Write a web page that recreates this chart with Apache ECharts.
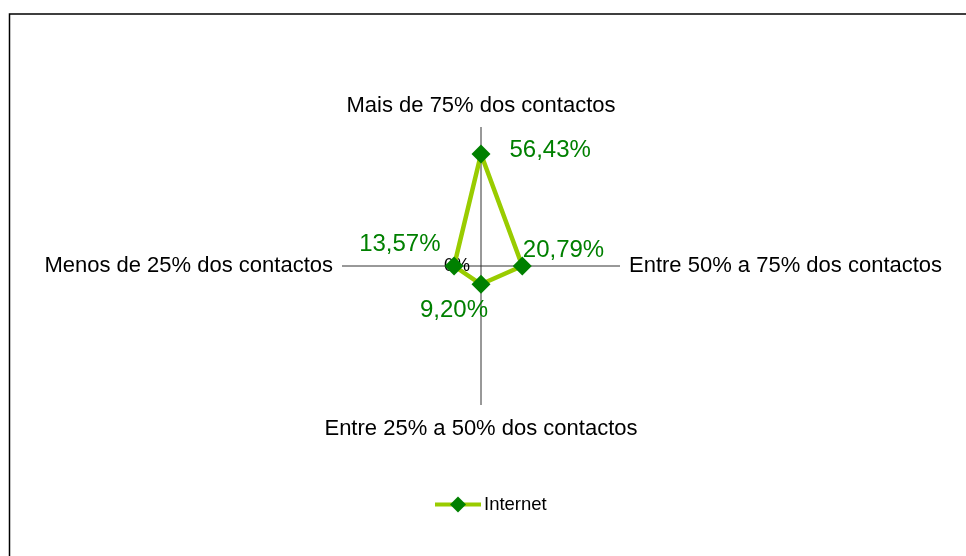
<!DOCTYPE html>
<html>
<head>
<meta charset="utf-8">
<script src="https://cdn.jsdelivr.net/npm/echarts@6/dist/echarts.min.js"></script>
<style>
html,body{margin:0;padding:0;background:#fff;}
#main{width:966px;height:556px;}
</style>
</head>
<body>
<div id="main"></div>
<script>
// categorias (sentido horario a partir do topo)
var categorias = ['Mais de 75% dos contactos', 'Entre 50% a 75% dos contactos', 'Entre 25% a 50% dos contactos', 'Menos de 25% dos contactos'];
// valores da serie Internet (%)
var internet = [56.43, 20.79, 9.20, 13.57];
var serieNome = 'Internet';
var eixoMax = 70;

// posicao das etiquetas de cada ponto
var etiquetas = [
	{position: 'right', offset: [14, -4]},
	{position: 'right', offset: [-14, -16]},
	{position: 'bottom', offset: [-27, 0]},
	{position: 'left', offset: [1, -22]}
];
// estilo do nome de cada categoria (rich)
var estiloCat = ['t', 'n', 'b', 'n'];

var passo = 360 / categorias.length;

function fmt(v) {
	return v.toFixed(2).replace('.', ',') + '%';
}

var dados = [];
for (var i = 0; i < internet.length; i++) {
	dados.push({
		value: [internet[i], i * passo],
		label: etiquetas[i]
	});
}
// fechar o poligono (volta ao primeiro ponto)
dados.push({value: [internet[0], 360], label: {show: false}, symbol: 'none'});

var myChart = echarts.init(document.getElementById('main'));
var option = {
	backgroundColor: '#fff',
	animation: false,
	textStyle: {fontFamily: 'Liberation Sans, Arial, sans-serif'},
	graphic: [{
		type: 'rect',
		shape: {x: 9.5, y: 14, width: 1000, height: 600},
		style: {fill: 'none', stroke: '#000', lineWidth: 1.5},
		silent: true
	}],
	polar: {center: [481, 266], radius: 139},
	angleAxis: {
		type: 'value',
		min: 0,
		max: 360,
		interval: passo,
		startAngle: 90,
		clockwise: true,
		axisLine: {show: false},
		axisTick: {show: false},
		splitLine: {show: true, lineStyle: {color: '#333', width: 1}},
		axisLabel: {
			margin: 9,
			fontSize: 22,
			color: '#000',
			formatter: function(v) {
				var k = Math.round(v / passo);
				if (k >= categorias.length) return '';
				return '{' + estiloCat[k] + '|' + categorias[k] + '}';
			},
			rich: {
				t: {fontSize: 22, color: '#000', padding: [0, 0, 1, 0]},
				b: {fontSize: 22, color: '#000', padding: [4, 0, 0, 0]},
				n: {fontSize: 22, color: '#000'}
			}
		}
	},
	radiusAxis: {
		type: 'value',
		min: 0,
		max: eixoMax,
		interval: eixoMax,
		axisLine: {show: false},
		axisTick: {show: false},
		splitLine: {show: false},
		axisLabel: {
			margin: 11,
			fontSize: 18,
			color: '#000',
			formatter: function(v) { return v == 0 ? '0%' : ''; }
		}
	},
	legend: {
		data: [serieNome],
		left: 428,
		top: 490,
		itemWidth: 46,
		itemHeight: 20,
		itemGap: 3,
		lineStyle: {width: 4},
		textStyle: {fontSize: 18.5, color: '#000', padding: [0, 0, 0, -2]}
	},
	series: [{
		name: serieNome,
		type: 'line',
		coordinateSystem: 'polar',
		clip: false,
		data: dados,
		symbol: 'diamond',
		symbolSize: 19,
		lineStyle: {color: '#99CC00', width: 4.5},
		itemStyle: {color: '#008000'},
		label: {
			show: true,
			fontSize: 24,
			color: '#008000',
			formatter: function(p) { return fmt(p.value[0]); }
		}
	}]
};
myChart.setOption(option);
</script>
</body>
</html>
